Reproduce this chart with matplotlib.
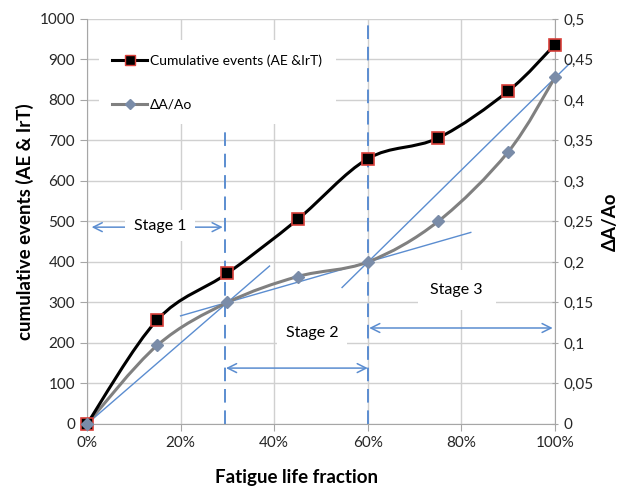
import matplotlib
matplotlib.use("Agg")
import matplotlib.pyplot as plt
import numpy as np
from matplotlib.path import Path
from matplotlib.patches import PathPatch
from matplotlib.lines import Line2D

plt.rcParams['font.family'] = ['Lato', 'DejaVu Sans']

# Fatigue life fraction and measured series
life_fraction = [0.0, 0.15, 0.30, 0.45, 0.60, 0.75, 0.90, 1.00]
cumulative_events = [0, 257, 372, 505, 655, 706, 822, 937]
area_ratio = [0.0, 0.097, 0.150, 0.182, 0.200, 0.250, 0.336, 0.428]

left_ticks = [0, 100, 200, 300, 400, 500, 600, 700, 800, 900, 1000]
right_ticks = [0, 0.05, 0.1, 0.15, 0.2, 0.25, 0.3, 0.35, 0.4, 0.45, 0.5]
right_tick_labels = ["0", "0,05", "0,1", "0,15", "0,2", "0,25", "0,3", "0,35", "0,4", "0,45", "0,5"]
x_ticks = [0, 0.2, 0.4, 0.6, 0.8, 1.0]
x_tick_labels = ["0%", "20%", "40%", "60%", "80%", "100%"]

# Tangent lines (x0, y0, x1, y1) in cumulative-events units
tangents = [
    (0.0, 0.0, 0.39, 390.0),
    (0.20, 267.0, 0.82, 473.0),
    (0.545, 337.0, 1.032, 891.0),
]
stage_bounds = [0.295, 0.60]

BLUE = "#5B8DD0"
GRID = "#D0D0D0"
SPINE = "#A6A6A6"


def smooth_path(xs, ys):
    """Catmull-Rom style Bezier path through the points."""
    pts = np.column_stack([xs, ys]).astype(float)
    n = len(pts)
    verts = [pts[0]]
    codes = [Path.MOVETO]
    for i in range(n - 1):
        p_prev = pts[i - 1] if i > 0 else pts[i]
        p_next2 = pts[i + 2] if i + 2 < n else pts[i + 1]
        c1 = pts[i] + (pts[i + 1] - p_prev) / 6.0
        c2 = pts[i + 1] - (p_next2 - pts[i]) / 6.0
        verts += [c1, c2, pts[i + 1]]
        codes += [Path.CURVE4] * 3
    return Path(verts, codes)


fig = plt.figure(figsize=(6.28, 4.87), dpi=100)
ax = fig.add_axes([0.1385, 0.1294, 0.7453, 0.8316])
ax2 = ax.twinx()

ax.set_xlim(0, 1)
ax.set_ylim(0, 1000)
ax2.set_ylim(0, 0.5)

ax.grid(True, color=GRID, linewidth=1.0)
ax.set_axisbelow(True)

for a in (ax, ax2):
    for s in a.spines.values():
        s.set_visible(False)
ax.spines['left'].set_visible(True)
ax.spines['left'].set_color(SPINE)
ax.spines['bottom'].set_visible(True)
ax.spines['bottom'].set_color(SPINE)
ax2.spines['right'].set_visible(True)
ax2.spines['right'].set_color(SPINE)

ax.set_xticks(x_ticks)
ax.set_xticklabels(x_tick_labels)
ax.set_yticks(left_ticks)
ax2.set_yticks(right_ticks)
ax2.set_yticklabels(right_tick_labels)
ax.tick_params(axis='both', colors=SPINE, labelcolor='#262626', labelsize=11, length=5)
ax.tick_params(axis='x', pad=4)
ax2.tick_params(axis='y', colors=SPINE, labelcolor='#262626', labelsize=11, length=5, direction='inout')

ax.set_xlabel("Fatigue life fraction", fontsize=13.5, fontweight='bold')
ax.xaxis.set_label_coords(0.447, -0.112)
ax.set_ylabel("cumulative events (AE & IrT)", fontsize=13.5, fontweight='bold', labelpad=4)
ax2.set_ylabel("\u0394A/Ao", fontsize=13.5, fontweight='bold', labelpad=6)

# Tangent lines
for x0, y0, x1, y1 in tangents:
    ax.plot([x0, x1], [y0, y1], color=BLUE, linewidth=1.0, clip_on=False, zorder=2)

# Stage boundaries
ax.axvline(stage_bounds[0], ymin=0, ymax=0.738, color=BLUE, linewidth=1.4,
           dashes=(7, 4), zorder=2)
ax.axvline(stage_bounds[1], ymin=0, ymax=1.0, color=BLUE, linewidth=1.4,
           dashes=(7, 4), zorder=2)

# Smoothed series curves
ax2.add_patch(PathPatch(smooth_path(life_fraction, area_ratio), facecolor='none',
                        edgecolor='#808080', linewidth=2.2, zorder=3))
ax2.add_patch(PathPatch(smooth_path(life_fraction, np.array(cumulative_events) / 2000.0),
                        facecolor='none', edgecolor='black', linewidth=2.2, zorder=5))
ax2.plot(life_fraction, np.array(cumulative_events) / 2000.0, linestyle='none', marker='s',
         markersize=8, markerfacecolor='black', markeredgecolor='#D9403A',
         markeredgewidth=1.2, zorder=6, clip_on=False)
ax2.plot(life_fraction, area_ratio, linestyle='none', marker='D', markersize=6,
         markerfacecolor='#7A8CA8', markeredgecolor='#7A8CA8', zorder=6.5, clip_on=False)

# Stage arrows and labels
arrow_kw = dict(arrowstyle='<->', color=BLUE, lw=1.1, mutation_scale=16,
                shrinkA=0, shrinkB=0)
ax2.annotate("", xy=(0.01, 0.243), xytext=(0.29, 0.243), arrowprops=arrow_kw, zorder=7)
ax2.annotate("", xy=(0.297, 0.069), xytext=(0.60, 0.069), arrowprops=arrow_kw, zorder=7)
ax2.annotate("", xy=(0.603, 0.1185), xytext=(0.995, 0.1185), arrowprops=arrow_kw, zorder=7)

box = dict(boxstyle='square,pad=0.55', facecolor='white', edgecolor='none')
ax2.text(0.157, 0.245, "Stage 1", ha='center', va='center', fontsize=11.5, bbox=box, zorder=8)
ax2.text(0.481, 0.1125, "Stage 2", ha='center', va='center', fontsize=11.5, bbox=box, zorder=8)
ax2.text(0.79, 0.1655, "Stage 3", ha='center', va='center', fontsize=11.5,
         bbox=dict(boxstyle='square,pad=0.8', facecolor='white', edgecolor='none'), zorder=8)

# Legend
handles = [
    Line2D([], [], color='black', linewidth=2.2, marker='s', markersize=7,
           markerfacecolor='black', markeredgecolor='#D9403A'),
    Line2D([], [], color='#808080', linewidth=2.2, marker='D', markersize=5,
           markerfacecolor='#7A8CA8', markeredgecolor='#7A8CA8'),
]
leg = ax2.legend(handles, ["Cumulative events (AE &IrT)", "\u0394A/Ao"],
                 loc='upper left', bbox_to_anchor=(0.01, 0.965), fontsize=10,
                 frameon=True, fancybox=False, facecolor='white', edgecolor='none',
                 framealpha=1.0, handlelength=2.5, handletextpad=0.2,
                 labelspacing=2.3, borderpad=1.0)
leg.set_zorder(9)

fig.savefig("out.png", dpi=100)
